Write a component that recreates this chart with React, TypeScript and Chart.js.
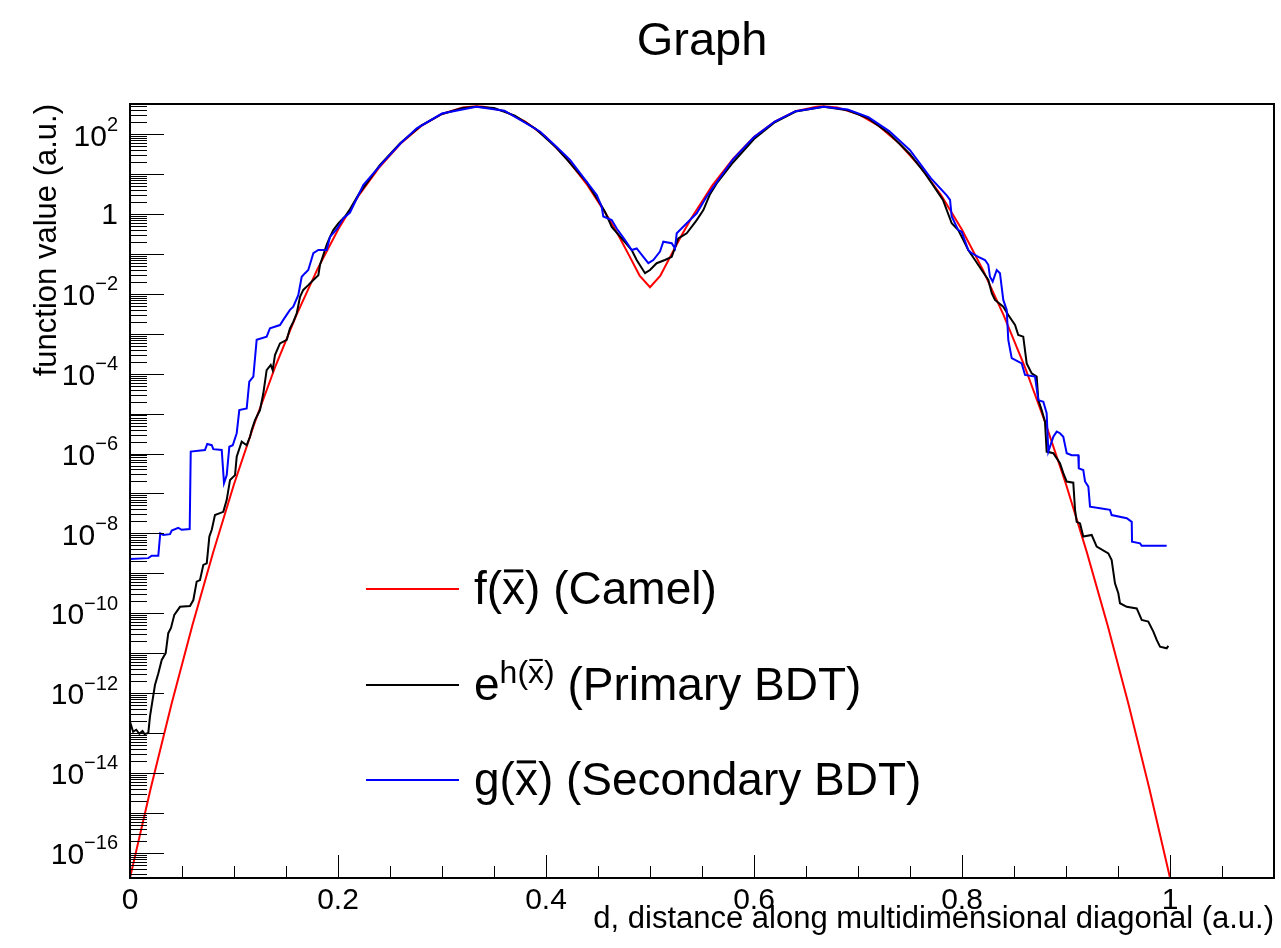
import React, { useEffect, useRef } from "react";
import { Chart, registerables } from "chart.js";

Chart.register(...registerables);

const FONT = '"Liberation Sans", Arial, Helvetica, sans-serif';

// Each point: [d (distance along diagonal), log10(function value)]
const camelCurve: [number, number][] = [
  [0, -16.63], [0.02, -14.38], [0.04, -12.27], [0.06, -10.3], [0.08, -8.47],
  [0.1, -6.77], [0.12, -5.22], [0.14, -3.8], [0.16, -2.53], [0.18, -1.39],
  [0.2, -0.39], [0.22, 0.47], [0.24, 1.18], [0.26, 1.76], [0.28, 2.21],
  [0.3, 2.51], [0.32, 2.67], [0.3333, 2.7], [0.34, 2.69], [0.36, 2.58],
  [0.38, 2.32], [0.4, 1.93], [0.42, 1.39], [0.44, 0.72], [0.46, -0.09],
  [0.47, -0.55], [0.48, -1.04], [0.49, -1.54], [0.5, -1.83], [0.51, -1.54],
  [0.52, -1.04], [0.53, -0.55], [0.54, -0.09], [0.56, 0.72], [0.58, 1.39],
  [0.6, 1.93], [0.62, 2.32], [0.64, 2.58], [0.66, 2.69], [0.6667, 2.7],
  [0.68, 2.67], [0.7, 2.51], [0.72, 2.21], [0.74, 1.76], [0.76, 1.18],
  [0.78, 0.47], [0.8, -0.39], [0.82, -1.39], [0.84, -2.53], [0.86, -3.8],
  [0.88, -5.22], [0.9, -6.77], [0.92, -8.47], [0.94, -10.3], [0.96, -12.27],
  [0.98, -14.38], [1.0, -16.63],
];

const primaryBdt: [number, number][] = [
  [0, -12.72], [0.003, -12.97], [0.006, -12.92], [0.009, -13.02], [0.012, -12.95],
  [0.014, -13.03], [0.0176, -13.0], [0.0192, -12.59], [0.024, -11.8], [0.0272, -11.51],
  [0.0305, -11.17], [0.0343, -11.0], [0.0368, -10.5], [0.0394, -10.37], [0.0426, -10.04],
  [0.0481, -9.84], [0.0577, -9.82], [0.0609, -9.67], [0.0641, -9.21], [0.0673, -9.17],
  [0.0705, -8.79], [0.0738, -8.75], [0.0763, -8.08], [0.0786, -7.91], [0.0817, -7.54],
  [0.0897, -7.46], [0.093, -7.16], [0.0962, -6.66], [0.101, -6.54], [0.1026, -6.08],
  [0.1074, -5.7], [0.1122, -5.79], [0.1154, -5.58], [0.117, -5.41], [0.1202, -5.16],
  [0.125, -4.91], [0.1282, -4.49], [0.1314, -3.91], [0.1353, -3.78], [0.1372, -3.91],
  [0.1394, -3.53], [0.1442, -3.24], [0.1507, -3.15], [0.1538, -2.86], [0.157, -2.7],
  [0.1603, -2.49], [0.1635, -2.07], [0.1666, -1.9], [0.1714, -1.78], [0.1763, -1.65],
  [0.1811, -1.53], [0.1827, -1.27], [0.1853, -1.07], [0.1891, -0.77], [0.1923, -0.57],
  [0.1955, -0.4], [0.2003, -0.23], [0.2067, -0.06], [0.2115, 0.12], [0.22, 0.5],
  [0.24, 1.22], [0.26, 1.78], [0.28, 2.22], [0.3, 2.51], [0.32, 2.66],
  [0.333, 2.69], [0.35, 2.66], [0.37, 2.47], [0.39, 2.14], [0.41, 1.66],
  [0.42, 1.37], [0.43, 1.07], [0.4391, 0.8], [0.4519, 0.27], [0.4567, 0.06],
  [0.4632, -0.32], [0.4728, -0.61], [0.4824, -0.9], [0.4872, -1.15], [0.4952, -1.48],
  [0.5, -1.4], [0.5064, -1.23], [0.5144, -1.15], [0.5209, -1.07], [0.5272, -0.61],
  [0.5353, -0.48], [0.5449, -0.15], [0.5513, 0.1], [0.5577, 0.5], [0.5641, 0.77],
  [0.58, 1.3], [0.6, 1.88], [0.62, 2.3], [0.64, 2.57], [0.667, 2.69],
  [0.69, 2.6], [0.71, 2.4], [0.73, 2.02], [0.75, 1.5], [0.765, 1.0],
  [0.7817, 0.354], [0.7901, -0.23], [0.7964, -0.4], [0.8013, -0.65], [0.806, -0.9],
  [0.8125, -1.15], [0.8189, -1.4], [0.8253, -1.65], [0.8286, -1.98], [0.8317, -2.15],
  [0.8397, -2.32], [0.8445, -2.53], [0.851, -2.78], [0.8541, -3.03], [0.8589, -3.07],
  [0.8622, -3.74], [0.867, -3.99], [0.8718, -4.07], [0.8734, -4.66], [0.8766, -4.91],
  [0.8798, -5.2], [0.8814, -5.95], [0.8878, -5.99], [0.8942, -6.24], [0.8974, -6.49],
  [0.9007, -6.7], [0.907, -6.73], [0.9087, -7.41], [0.9103, -7.71], [0.9135, -7.75],
  [0.9166, -8.08], [0.9247, -8.04], [0.9295, -8.33], [0.9407, -8.5], [0.9439, -8.67],
  [0.9471, -9.25], [0.9503, -9.5], [0.9519, -9.75], [0.9584, -9.84], [0.968, -9.88],
  [0.9728, -10.17], [0.9791, -10.21], [0.984, -10.46], [0.9872, -10.67], [0.9904, -10.84],
  [0.9968, -10.88], [0.9984, -10.82],
];

const secondaryBdt: [number, number][] = [
  [0, -8.64], [0.0176, -8.62], [0.0209, -8.56], [0.0272, -8.56], [0.0291, -8.0],
  [0.032, -8.04], [0.0385, -8.02], [0.0401, -7.93], [0.0464, -7.86], [0.0497, -7.91],
  [0.0574, -7.89], [0.0584, -5.95], [0.0721, -5.91], [0.0743, -5.76], [0.0786, -5.79],
  [0.0801, -5.89], [0.0882, -5.91], [0.0904, -6.74], [0.093, -6.54], [0.0955, -5.83],
  [0.0988, -5.79], [0.1026, -5.49], [0.1051, -4.91], [0.1122, -4.87], [0.1147, -4.2],
  [0.1186, -4.07], [0.1218, -3.15], [0.1314, -3.07], [0.1346, -2.86], [0.1442, -2.78],
  [0.1474, -2.65], [0.1538, -2.4], [0.157, -2.32], [0.1618, -2.03], [0.1651, -1.57],
  [0.1683, -1.48], [0.1714, -1.4], [0.1763, -0.98], [0.1811, -0.9], [0.1891, -0.9],
  [0.1923, -0.57], [0.1988, -0.38], [0.2051, -0.11], [0.2115, 0.04], [0.2243, 0.73],
  [0.2436, 1.31], [0.26, 1.77], [0.2757, 2.15], [0.3, 2.52], [0.333, 2.69],
  [0.36, 2.59], [0.3942, 2.07], [0.41, 1.69], [0.4231, 1.36], [0.4488, 0.48],
  [0.4535, 0.19], [0.4551, -0.06], [0.4632, -0.15], [0.468, -0.36], [0.476, -0.65],
  [0.4824, -0.9], [0.4872, -0.86], [0.4936, -1.07], [0.4984, -1.23], [0.5032, -1.15],
  [0.5096, -0.94], [0.5128, -0.69], [0.5209, -0.73], [0.524, -0.86], [0.5257, -0.48],
  [0.5353, -0.23], [0.5449, 0.02], [0.5545, 0.44], [0.5657, 0.855], [0.58, 1.38],
  [0.6, 1.93], [0.62, 2.32], [0.64, 2.58], [0.667, 2.69], [0.69, 2.62],
  [0.71, 2.43], [0.73, 2.08], [0.75, 1.6], [0.77, 0.9], [0.7853, 0.47],
  [0.7885, 0.355], [0.7901, -0.06], [0.7964, -0.4], [0.7997, -0.44], [0.806, -0.9],
  [0.8093, -0.98], [0.8157, -1.07], [0.8221, -1.15], [0.8253, -1.27], [0.8269, -1.57],
  [0.8295, -1.69], [0.8334, -1.4], [0.8365, -1.48], [0.8397, -2.15], [0.843, -2.4],
  [0.8445, -3.15], [0.8478, -3.61], [0.851, -3.65], [0.8574, -3.74], [0.8606, -4.03],
  [0.8702, -4.07], [0.8734, -4.66], [0.8782, -4.7], [0.8814, -4.99], [0.883, -5.95],
  [0.8878, -5.58], [0.8911, -5.45], [0.8942, -5.49], [0.8974, -5.58], [0.9007, -5.99],
  [0.9055, -6.04], [0.9118, -6.04], [0.9123, -6.37], [0.9166, -6.41], [0.9183, -6.7],
  [0.9215, -6.83], [0.9231, -7.33], [0.9327, -7.37], [0.9423, -7.41], [0.9439, -7.54],
  [0.9584, -7.62], [0.9632, -7.71], [0.9635, -8.21], [0.9712, -8.25], [0.9728, -8.31],
  [0.9968, -8.31],
];

const xMajorTicks = [0, 0.2, 0.4, 0.6, 0.8, 1];
const xTickLabels = ["0", "0.2", "0.4", "0.6", "0.8", "1"];
const xMinorTicks = [0.05, 0.1, 0.15, 0.25, 0.3, 0.35, 0.45, 0.5, 0.55, 0.65, 0.7, 0.75, 0.85, 0.9, 0.95, 1.05];
const yMajorExponents = [-17, -16, -15, -14, -13, -12, -11, -10, -9, -8, -7, -6, -5, -4, -3, -2, -1, 0, 1, 2];
const yMinorMantissas = [2, 3, 4, 5, 6, 7, 8, 9];
const yLabelExponents = [2, 0, -2, -4, -6, -8, -10, -12, -14, -16];
const xRange = [0, 1.1];
const yRange = [2.32e-17, 574];

const titleText = "Graph";
const xTitle = "d, distance along multidimensional diagonal (a.u.)";
const yTitle = "function value (a.u.)";

type Part = { t: string; size: number; rise?: number; bar?: boolean };
const legendEntries: { color: string; parts: Part[] }[] = [
  { color: "#ff0000", parts: [{ t: "f(", size: 46 }, { t: "x", size: 46, bar: true }, { t: ") (Camel)", size: 46 }] },
  {
    color: "#000000",
    parts: [
      { t: "e", size: 46 },
      { t: "h(", size: 32, rise: 17 },
      { t: "x", size: 32, rise: 17, bar: true },
      { t: ")", size: 32, rise: 17 },
      { t: " (Primary BDT)", size: 46 },
    ],
  },
  { color: "#0000ff", parts: [{ t: "g(", size: 46 }, { t: "x", size: 46, bar: true }, { t: ") (Secondary BDT)", size: 46 }] },
];

const toPoints = (arr: [number, number][]) => arr.map(([d, l]) => ({ x: d, y: Math.pow(10, l) }));

const rootPlugin = {
  id: "rootStyle",
  afterDraw(chart: any) {
    const { ctx, chartArea: a, scales } = chart;
    const xs = scales.x;
    const ys = scales.y;
    ctx.save();
    ctx.strokeStyle = "#000";
    ctx.fillStyle = "#000";

    // y ticks (inside the frame)
    ctx.lineWidth = 1;
    ctx.beginPath();
    for (const e of yMajorExponents) {
      const vals = [{ v: Math.pow(10, e), len: 34 }].concat(
        yMinorMantissas.map((m) => ({ v: m * Math.pow(10, e), len: 17 }))
      );
      for (const { v, len } of vals) {
        if (v < ys.min || v > ys.max) continue;
        const py = Math.round(ys.getPixelForValue(v)) + 0.5;
        ctx.moveTo(a.left, py);
        ctx.lineTo(a.left + len, py);
      }
    }
    // x ticks
    for (const v of xMajorTicks) {
      const px = Math.round(xs.getPixelForValue(v)) + 0.5;
      ctx.moveTo(px, a.bottom);
      ctx.lineTo(px, a.bottom - 23);
    }
    for (const v of xMinorTicks) {
      const px = Math.round(xs.getPixelForValue(v)) + 0.5;
      ctx.moveTo(px, a.bottom);
      ctx.lineTo(px, a.bottom - 12);
    }
    ctx.stroke();

    // frame
    ctx.lineWidth = 2;
    ctx.strokeRect(a.left, a.top, a.right - a.left, a.bottom - a.top);

    // y tick labels with superscript exponents
    const rightEdge = a.left - 12;
    ctx.textBaseline = "middle";
    for (const e of yLabelExponents) {
      const py = ys.getPixelForValue(Math.pow(10, e));
      if (e === 0) {
        ctx.font = `30px ${FONT}`;
        ctx.textAlign = "right";
        ctx.fillText("1", rightEdge, py + 2);
        continue;
      }
      const exp = e < 0 ? "\u2212" + String(-e) : String(e);
      ctx.font = `20px ${FONT}`;
      const w = ctx.measureText(exp).width;
      ctx.textAlign = "left";
      ctx.fillText(exp, rightEdge - w, py - 9);
      ctx.font = `30px ${FONT}`;
      ctx.textAlign = "right";
      ctx.fillText("10", rightEdge - w, py + 3);
    }

    // legend
    const rows = [485, 581, 676];
    const lineX0 = 366;
    const lineX1 = 459;
    const textX = 474;
    legendEntries.forEach((entry, i) => {
      const ry = a.top + rows[i];
      ctx.strokeStyle = entry.color;
      ctx.lineWidth = 2;
      ctx.beginPath();
      ctx.moveTo(lineX0, ry);
      ctx.lineTo(lineX1, ry);
      ctx.stroke();
      const base = ry + 15;
      let x = textX;
      ctx.fillStyle = "#000";
      ctx.strokeStyle = "#000";
      ctx.textAlign = "left";
      ctx.textBaseline = "alphabetic";
      for (const p of entry.parts) {
        ctx.font = `${p.size}px ${FONT}`;
        const w = ctx.measureText(p.t).width;
        const by = base - (p.rise || 0);
        ctx.fillText(p.t, x, by);
        if (p.bar) {
          ctx.lineWidth = Math.max(2, p.size * 0.065);
          ctx.beginPath();
          const yb = by - p.size * 0.72;
          ctx.moveTo(x + w * 0.08, yb);
          ctx.lineTo(x + w * 0.92, yb);
          ctx.stroke();
        }
        x += w;
      }
    });
    ctx.restore();
  },
};

export default function App() {
  const ref = useRef<HTMLCanvasElement>(null);
  useEffect(() => {
    const canvas = ref.current;
    if (!canvas) return;
    Chart.defaults.font.family = FONT;
    Chart.defaults.color = "#000";
    const common = { borderWidth: 2, pointRadius: 0, tension: 0, fill: false };
    const chart = new Chart(canvas, {
      type: "line",
      data: {
        datasets: [
          { ...common, label: "f(x̄) (Camel)", data: toPoints(camelCurve), borderColor: "#ff0000", order: 2 },
          { ...common, label: "e^h(x̄) (Primary BDT)", data: toPoints(primaryBdt), borderColor: "#000000", order: 1 },
          { ...common, label: "g(x̄) (Secondary BDT)", data: toPoints(secondaryBdt), borderColor: "#0000ff", order: 0 },
        ],
      },
      options: {
        responsive: false,
        animation: false,
        devicePixelRatio: 1,
        layout: { padding: { left: 0, right: 7, top: 0, bottom: 0 } },
        plugins: {
          legend: { display: false },
          tooltip: { enabled: false },
          title: {
            display: true,
            text: titleText,
            fullSize: false,
            color: "#000",
            font: { size: 47, weight: "normal", family: FONT, lineHeight: 1.2 },
            padding: { top: 14, bottom: 33.6 },
          },
        },
        scales: {
          x: {
            type: "linear",
            min: xRange[0],
            max: xRange[1],
            grid: { display: false },
            border: { display: false },
            afterBuildTicks: (s: any) => {
              s.ticks = xMajorTicks.map((v) => ({ value: v }));
            },
            ticks: {
              callback: (_v: any, i: number) => xTickLabels[i],
              font: { size: 30, family: FONT, lineHeight: 1 },
              color: "#000",
              padding: 0,
              maxRotation: 0,
              autoSkip: false,
            },
            title: {
              display: true,
              text: xTitle,
              align: "end",
              color: "#000",
              font: { size: 31, family: FONT },
              padding: { top: 0, bottom: 10 },
            },
            afterFit: (s: any) => {
              s.height = 70;
            },
          },
          y: {
            type: "logarithmic",
            min: yRange[0],
            max: yRange[1],
            grid: { display: false },
            border: { display: false },
            ticks: { display: false },
            title: {
              display: true,
              text: yTitle,
              align: "end",
              color: "#000",
              font: { size: 31, family: FONT },
              padding: { top: 28.5, bottom: 0 },
            },
            afterFit: (s: any) => {
              s.width = 130;
            },
          },
        },
      } as any,
      plugins: [rootPlugin],
    });
    return () => chart.destroy();
  }, []);
  return (
    <div style={{ position: "absolute", left: 0, top: 0, width: 1281, height: 948, background: "#fff" }}>
      <canvas ref={ref} width={1281} height={948} style={{ display: "block", width: 1281, height: 948 }} />
    </div>
  );
}
